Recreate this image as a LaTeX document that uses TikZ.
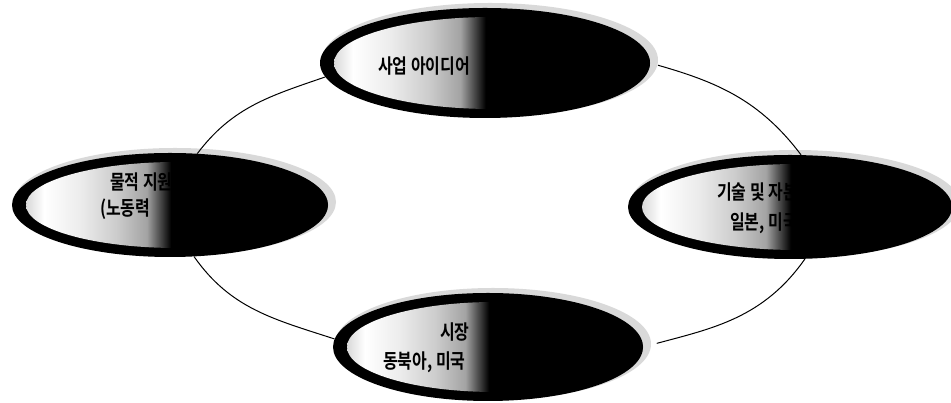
\documentclass[tikz,border=0pt]{standalone}
\usepackage{fontspec}
\newfontfamily\kr{Noto Sans CJK KR Bold}
\usetikzlibrary{shapes.geometric}

\pgfdeclarehorizontalshading{ovalshade}{100bp}{color(0bp)=(gray!30); color(25bp)=(gray!30); color(28bp)=(white); color(34bp)=(gray!15); color(40bp)=(gray!40); color(45bp)=(gray!72); color(49bp)=(black); color(100bp)=(black)}

\tikzset{
    halo/.style={fill=gray!30},
    rim/.style={fill=black},
    face/.style={shading=ovalshade},
    oval/.style={ellipse, inner sep=0pt},
    txt/.style={font=\kr\fontsize{20}{24}\selectfont, anchor=west, inner sep=0pt, xscale=0.8},
    ring/.style={line width=1pt}
}

\begin{document}
\begin{tikzpicture}[x=1pt,y=1pt]
    \useasboundingbox (0,0) rectangle (951,403);

    % Ovals
    \foreach \n/\cx/\cy/\rx/\ry in {idea/485/340/165/55, supp/170/198/158/52, tech/790/196/162/52, mark/488/56/155/54} {
        \fill[halo] (\cx+5,\cy+3) ellipse [x radius=\rx+3, y radius=\ry+2];
        \fill[rim] (\cx,\cy) ellipse [x radius=\rx, y radius=\ry];
        \shade[face] (\cx+7,\cy) ellipse [x radius=\rx-7, y radius=\ry-9];
        \node[oval, minimum width=2*\rx, minimum height=2*\ry] (\n) at (\cx,\cy) {};
    }

    % Ring connectors
    \draw[ring] (idea.185) to[out=199, in=53] (supp.62);
    \draw[ring] (supp.295) to[out=305, in=162] (mark.177);
    \draw[ring, shorten <=14pt] (mark.east) to[out=15, in=235] (tech.286);
    \draw[ring, shorten >=8pt] (tech.78) to[out=127, in=344] (idea.east);

    % Labels
    \node[txt] (idea-t) at (378,337) {사업 아이디어};
    \node[txt] (supp-t1) at (110,221) {물적 지원};
    \node[txt] (supp-t2) at (100,194) {(노동력};
    \node[txt] (tech-t1) at (717,211) {기술 및 자본};
    \node[txt] (tech-t2) at (730,180) {일본, 미국};
    \node[txt] (mark-t1) at (440,71) {시장};
    \node[txt] (mark-t2) at (383,41) {동북아, 미국};
\end{tikzpicture}
\end{document}
